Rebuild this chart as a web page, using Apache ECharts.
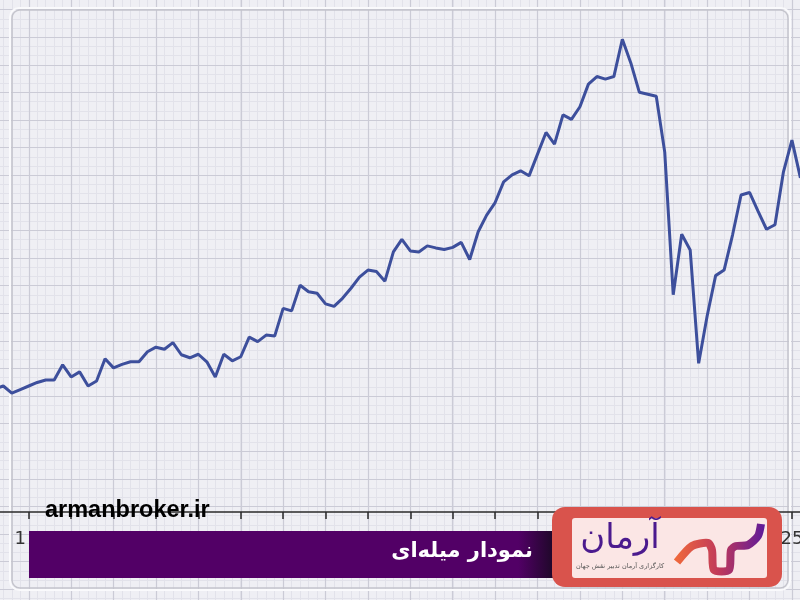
<!DOCTYPE html>
<html>
<head>
<meta charset="utf-8">
<script src="https://cdn.jsdelivr.net/npm/echarts@6/dist/echarts.min.js"></script>
<style>html,body{margin:0;padding:0;background:#efeff4;}#c{width:800px;height:600px;}</style>
</head>
<body>
<div id="c"></div>
<script>
// ---- data ----
var values = [24.4,25.0,23.6,24.3,25.0,25.7,26.2,26.2,29.2,26.8,27.8,25.0,26.0,30.4,28.6,29.3,29.8,29.8,31.8,32.7,
  32.3,33.6,31.2,30.6,31.3,29.8,26.8,31.3,30.0,30.8,34.7,33.8,35.1,34.9,40.4,39.9,45.0,43.7,43.4,41.3,
  40.8,42.4,44.4,46.6,48.0,47.7,45.8,51.6,54.1,51.8,51.6,52.8,52.4,52.1,52.5,53.5,50.1,55.6,58.9,61.4,
  65.5,66.9,67.7,66.7,71.0,75.3,73.0,78.8,77.9,80.4,84.9,86.4,85.9,86.4,93.8,89.1,83.3,82.9,82.5,71.4,
  43.1,55.1,52.0,29.5,38.9,46.9,48.0,55.0,62.9,63.4,59.7,56.1,57.0,67.5,73.8,66.3];
var categories = values.map(function(_, i){ return String(i); });
var tickLabels = {3: '1', 94: '25'};
var titleText = 'نمودار میله‌ای';
var siteText = 'armanbroker.ir';
var brandText = 'آرمان';
var brandSub = 'کارگزاری آرمان تدبیر نقش جهان';

// ---- decoration: graph paper ----
var g = [];
var W = 800, H = 600;
for (var x = 28.5 - 42.4; x < W; x += 8.48) {
  g.push({type:'line', z:0, silent:true, shape:{x1:Math.round(x)+0.5,y1:0,x2:Math.round(x)+0.5,y2:H}, style:{stroke:'#e2e2ea',lineWidth:1}});
}
for (var y = 37 - 27.6; y < H; y += 9.2) {
  g.push({type:'line', z:0, silent:true, shape:{x1:0,y1:Math.round(y)+0.5,x2:W,y2:Math.round(y)+0.5}, style:{stroke:'#e2e2ea',lineWidth:1}});
}
for (var x2 = 28.5 - 42.4; x2 < W; x2 += 42.4) {
  g.push({type:'line', z:0, silent:true, shape:{x1:Math.round(x2)+0.5,y1:0,x2:Math.round(x2)+0.5,y2:H}, style:{stroke:'#cbcbd6',lineWidth:1.2}});
}
for (var y2 = 37 - 27.6; y2 < H; y2 += 27.6) {
  g.push({type:'line', z:0, silent:true, shape:{x1:0,y1:Math.round(y2)+0.5,x2:W,y2:Math.round(y2)+0.5}, style:{stroke:'#cbcbd6',lineWidth:1.2}});
}
// frame
g.push({type:'rect', z:1, silent:true, shape:{x:10,y:8,width:780,height:582,r:9}, style:{fill:null,stroke:'#fafafc',lineWidth:2}});
g.push({type:'rect', z:1, silent:true, shape:{x:12,y:10,width:776,height:578,r:8}, style:{fill:null,stroke:'#c4c4cc',lineWidth:1.5}});

// overlays
g.push({type:'text', z:50, silent:true, style:{x:45,y:511,text:siteText,fill:'#000',font:'bold 23.5px "Liberation Sans", Arial, sans-serif',textVerticalAlign:'middle',textAlign:'left'}});
g.push({type:'rect', z:50, silent:true, shape:{x:29,y:531,width:526,height:47},
  style:{fill:new echarts.graphic.LinearGradient(0,0,1,0,[{offset:0,color:'#520066'},{offset:0.93,color:'#520066'},{offset:1,color:'#1c0826'}])}});
g.push({type:'text', z:51, silent:true, style:{x:533,y:552,text:titleText,fill:'#ffffff',font:'bold 21px "DejaVu Sans", sans-serif',textAlign:'right',textVerticalAlign:'middle'}});
// logo box
g.push({type:'rect', z:50, silent:true, shape:{x:552,y:507,width:230,height:80,r:13}, style:{fill:'#d9534c'}});
g.push({type:'rect', z:51, silent:true, shape:{x:572,y:518,width:195,height:60,r:3}, style:{fill:'#fbe6e5'}});
g.push({type:'text', z:52, silent:true, style:{x:620,y:539,text:brandText,fill:'#4b1a8e',font:'34px "DejaVu Sans", sans-serif',textAlign:'center',textVerticalAlign:'middle'}});
g.push({type:'text', z:52, silent:true, style:{x:620,y:566,text:brandSub,fill:'#555',font:'6.5px "DejaVu Sans", sans-serif',textAlign:'center',textVerticalAlign:'middle'}});
g.push({type:'polyline', z:52, silent:true, shape:{smooth:0.25, points:[[677,562],[692,546],[708,543],[712,550],[714,570],[729,570],[731,550],[736,546],[748,545],[758,536],[761,524]]},
  style:{fill:null,lineWidth:8,stroke:new echarts.graphic.LinearGradient(0,0,1,0,[{offset:0,color:'#f26b3a'},{offset:0.5,color:'#c0395a'},{offset:1,color:'#5e1a9a'}])}});

var chart = echarts.init(document.getElementById('c'), null, {renderer:'canvas'});
chart.setOption({
  animation: false,
  backgroundColor: '#efeff4',
  grid: {left: -5.18, right: -0.42, top: 8, bottom: 88, containLabel: false, outerBoundsMode: 'none'},
  xAxis: {
    type: 'category', data: categories, boundaryGap: false, z: 10,
    axisLine: {lineStyle: {color: '#2a2a2a', width: 1.5}},
    axisTick: {length: 7, lineStyle: {color: '#2a2a2a', width: 1.5}, interval: function(i){ return (i - 4) % 5 === 0; }},
    axisLabel: {interval: 0, margin: 18, color: '#333', fontSize: 18, fontFamily: '"DejaVu Sans", sans-serif',
      formatter: function(v, i){ return tickLabels[i] || ''; }},
    splitLine: {show: false}
  },
  yAxis: {type: 'value', min: 0, max: 100, show: false, splitLine: {show: false}},
  series: [{
    type: 'line', data: values, showSymbol: false, z: 5,
    lineStyle: {color: '#3d4f9c', width: 3}
  }],
  graphic: g
});
</script>
</body>
</html>
